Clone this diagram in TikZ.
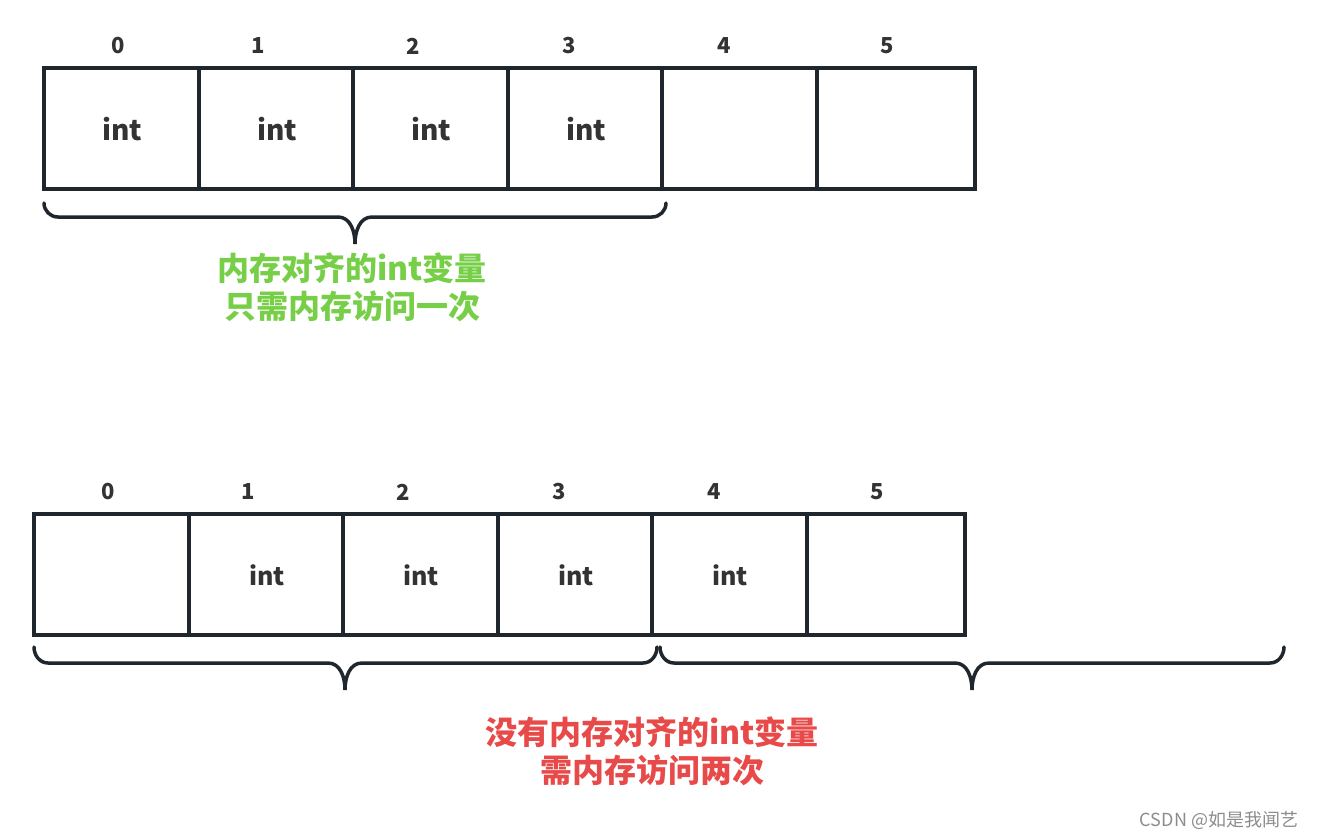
\documentclass[tikz,border=0pt]{standalone}
\usepackage{fontspec}
\usetikzlibrary{positioning}
\newfontfamily\cjk{Noto Sans CJK SC}
\definecolor{linec}{HTML}{1F262D}
\definecolor{textc}{HTML}{333333}
\definecolor{okgreen}{HTML}{77CF48}
\definecolor{badred}{HTML}{E84A4A}
\tikzset{
  cell/.style={draw=linec, line width=3.5pt},
  idx/.style={font=\cjk\bfseries\fontsize{22}{26}\selectfont, text=textc},
  word/.style={font=\cjk\bfseries\fontsize{28}{32}\selectfont, text=textc},
  smallword/.style={font=\cjk\bfseries\fontsize{25}{30}\selectfont, text=textc},
  brace/.style={draw=linec, line width=3.5pt, line cap=round},
  note/.style={font=\cjk\bfseries\fontsize{32}{38}\selectfont, align=center}
}
\begin{document}
\begin{tikzpicture}[x=1pt,y=-1pt]
    \useasboundingbox (0,0) rectangle (1319,840);
    % aligned row
    \foreach \xa/\xb in {44/199,199/353,353/508,508/662,662/817,817/975}
        \draw[cell] (\xa,68) rectangle (\xb,189);
    \foreach \n/\x in {0/118,1/258,2/413,3/569,4/724,5/887}
        \node[idx] (ta\n) at (\x,46) {\n};
    \foreach \n/\x in {0/122,1/277,2/431,3/586}
        \node[word] (ti\n) at (\x,129) {int};
    \draw[brace] (44,203) to[out=-90,in=180] (58,217) -- (338,217)
        to[out=0,in=90] (355,244) to[out=90,in=180] (372,217) -- (652,217)
        to[out=0,in=-90] (666,203);
    \coordinate (tt) at (352,245);
    \node[note, text=okgreen, below=4pt of tt] (good) {内存对齐的int变量\\只需内存访问一次};
    % unaligned row
    \foreach \xa/\xb in {34/189,189/343,343/498,498/652,652/807,807/965}
        \draw[cell] (\xa,514) rectangle (\xb,635);
    \foreach \n/\x in {0/108,1/248,2/403,3/559,4/714,5/877}
        \node[idx] (ba\n) at (\x,492) {\n};
    \foreach \n/\x in {1/267,2/421,3/576,4/730}
        \node[smallword] (bi\n) at (\x,575) {int};
    \draw[brace] (34,647) to[out=-90,in=180] (48,663) -- (328,663)
        to[out=0,in=90] (345,690) to[out=90,in=180] (362,663) -- (643,663)
        to[out=0,in=-90] (657,647);
    \draw[brace] (660,647) to[out=-90,in=180] (674,663) -- (955,663)
        to[out=0,in=90] (972,690) to[out=90,in=180] (989,663) -- (1270,663)
        to[out=0,in=-90] (1284,647);
    \coordinate (bt) at (652,713);
    \node[note, text=badred, below=0pt of bt] (bad) {没有内存对齐的int变量\\需内存访问两次};
    \node[font=\cjk\fontsize{18}{22}\selectfont, text=black!45] (mark) at (1219,820) {CSDN @如是我闻艺};
\end{tikzpicture}
\end{document}
